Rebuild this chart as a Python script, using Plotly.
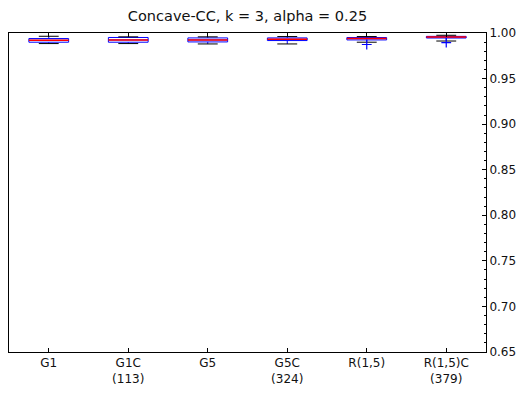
import plotly.graph_objects as go

# ---- data ----
categories = ["G1", "G1C<br>(113)", "G5", "G5C<br>(324)", "R(1,5)", "R(1,5)C<br>(379)"]
positions = [1, 2, 3, 4, 5, 6]
upper_whisker = [0.9964, 0.9958, 0.9958, 0.9961, 0.9961, 0.9975]
q3_vals       = [0.9939, 0.9951, 0.9946, 0.9946, 0.9950, 0.9963]
median_vals   = [0.9920, 0.9924, 0.9924, 0.9931, 0.9940, 0.9955]
q1_vals       = [0.9899, 0.9899, 0.9902, 0.9917, 0.9924, 0.9945]
lower_whisker = [0.9884, 0.9884, 0.9880, 0.9880, 0.9899, 0.9912]
flier_x = [5, 6]
flier_y = [0.9874, 0.9895]

title = "Concave-CC, k = 3, alpha = 0.25"
font_family = "DejaVu Sans"

box_w = 0.5
cap_half = box_w / 4
med_half = box_w / 2

fig = go.Figure()

fig.add_trace(go.Box(
    x=positions, q1=q1_vals, median=median_vals, q3=q3_vals,
    lowerfence=lower_whisker, upperfence=upper_whisker,
    width=box_w, whiskerwidth=0,
    line=dict(color="#0000ff", width=1),
    fillcolor="rgba(0,0,0,0)",
    boxpoints=False, showlegend=False, hoverinfo="skip",
))

# caps (black)
cx, cy = [], []
for p, lo, hi in zip(positions, lower_whisker, upper_whisker):
    cx += [p - cap_half, p + cap_half, None, p - cap_half, p + cap_half, None]
    cy += [lo, lo, None, hi, hi, None]
fig.add_trace(go.Scatter(x=cx, y=cy, mode="lines",
                         line=dict(color="black", width=1),
                         showlegend=False, hoverinfo="skip"))

# medians (red)
mx, my = [], []
for p, m in zip(positions, median_vals):
    mx += [p - med_half, p + med_half, None]
    my += [m, m, None]
fig.add_trace(go.Scatter(x=mx, y=my, mode="lines",
                         line=dict(color="#ff0000", width=1.5),
                         showlegend=False, hoverinfo="skip"))

# fliers
fig.add_trace(go.Scatter(x=flier_x, y=flier_y, mode="markers",
                         marker=dict(symbol="cross-thin", size=7,
                                     line=dict(color="#0000ff", width=1.2)),
                         showlegend=False, hoverinfo="skip"))

fig.update_layout(
    width=530, height=394,
    margin=dict(l=8, r=44, t=33, b=40),
    paper_bgcolor="white", plot_bgcolor="white",
    font=dict(family=font_family, size=12, color="#111"),
    title=dict(text=title, x=0.5, xref="paper", xanchor="center",
               y=1 - 16 / 394, yref="container", yanchor="middle",
               font=dict(size=14.5, color="#111")),
    showlegend=False,
)

fig.update_xaxes(
    range=[0.5, 6.5], tickmode="array", tickvals=positions, ticktext=categories,
    ticks="inside", ticklen=4, tickcolor="black", tickwidth=1,
    showline=True, linecolor="black", linewidth=1, mirror="ticks",
    showgrid=False, zeroline=False,
)
fig.update_yaxes(
    range=[0.65, 1.0], side="right", dtick=0.05, tick0=0.65, tickformat=".2f",
    ticks="inside", ticklen=4, tickcolor="black", tickwidth=1,
    minor=dict(dtick=0.01, ticks="inside", ticklen=2, tickcolor="black", showgrid=False),
    showline=True, linecolor="black", linewidth=1, mirror=True,
    showgrid=False, zeroline=False,
)

fig.write_html("out.html", config={"displayModeBar": False},
               post_script="document.body.style.margin='0px';")
